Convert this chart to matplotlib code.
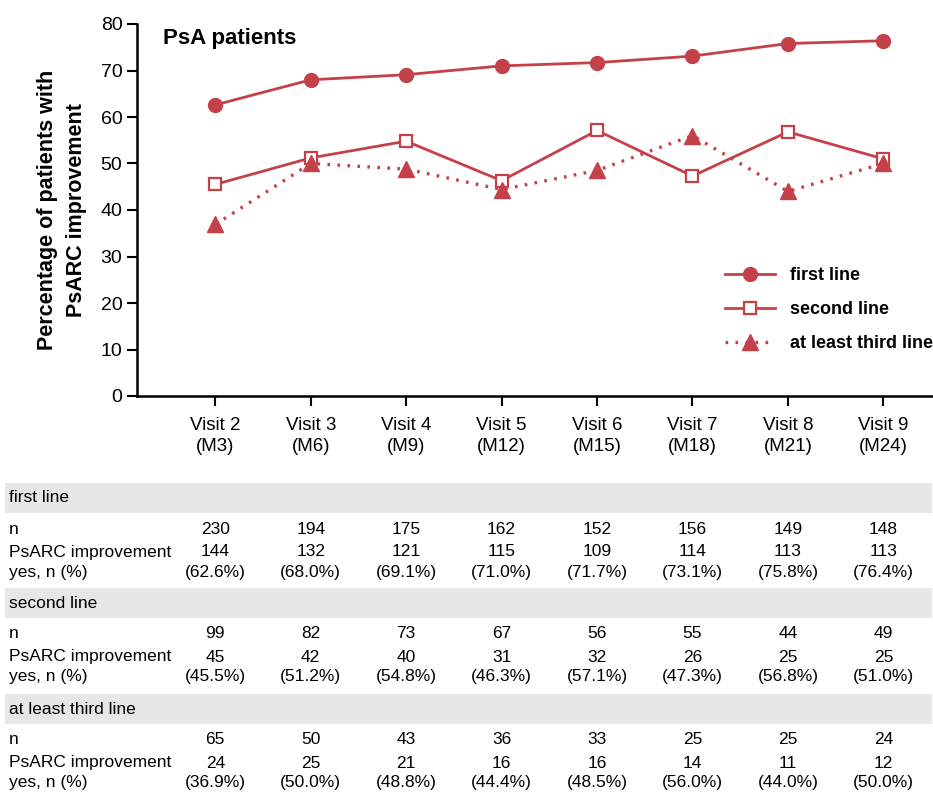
import matplotlib

matplotlib.use("Agg")
import matplotlib.pyplot as plt
import matplotlib.transforms as mtransforms
from matplotlib.patches import Rectangle

plt.rcParams["font.family"] = ["Liberation Sans Narrow", "Liberation Sans", "DejaVu Sans"]

visitas = ["Visit 2\n(M3)", "Visit 3\n(M6)", "Visit 4\n(M9)", "Visit 5\n(M12)",
           "Visit 6\n(M15)", "Visit 7\n(M18)", "Visit 8\n(M21)", "Visit 9\n(M24)"]

n_first = [230, 194, 175, 162, 152, 156, 149, 148]
sim_first = [144, 132, 121, 115, 109, 114, 113, 113]
pct_first = [62.6, 68.0, 69.1, 71.0, 71.7, 73.1, 75.8, 76.4]

n_second = [99, 82, 73, 67, 56, 55, 44, 49]
sim_second = [45, 42, 40, 31, 32, 26, 25, 25]
pct_second = [45.5, 51.2, 54.8, 46.3, 57.1, 47.3, 56.8, 51.0]

n_third = [65, 50, 43, 36, 33, 25, 25, 24]
sim_third = [24, 25, 21, 16, 16, 14, 11, 12]
pct_third = [36.9, 50.0, 48.8, 44.4, 48.5, 56.0, 44.0, 50.0]

COR = "#c4414a"
CINZA = "#e6e7e8"
W, H = 933, 792

fig = plt.figure(figsize=(W / 100, H / 100), dpi=100)
# eixo principal em pixels: x 137..933, y 24..396
ax = fig.add_axes([137 / W, 1 - 396 / H, (933 - 137) / W, (396 - 24) / H])

x = list(range(len(visitas)))
ax.plot(x, pct_first, color=COR, linewidth=2.0, marker="o", markersize=10,
        label="first line", zorder=3)
ax.plot(x, pct_second, color=COR, linewidth=2.0, marker="s", markersize=9,
        markerfacecolor="white", markeredgecolor=COR, markeredgewidth=1.6,
        label="second line", zorder=3)
ax.plot(x, pct_third, color=COR, linewidth=2.4, linestyle=(0, (0.8, 2.2)),
        marker="^", markersize=11, label="at least third line", zorder=3)

ax.set_xlim(-0.82, 7.52)
ax.set_ylim(0, 80)
ax.set_yticks(range(0, 81, 10))
ax.set_xticks(x)
ax.set_xticklabels(visitas, fontsize=13.5, linespacing=1.35)
ax.tick_params(axis="y", labelsize=14, length=7, width=1.5, direction="out")
ax.tick_params(axis="x", length=7, width=1.5, direction="out", pad=8)
for lado in ("top", "right"):
    ax.spines[lado].set_visible(False)
for lado in ("left", "bottom"):
    ax.spines[lado].set_linewidth(1.8)

ax.set_ylabel("Percentage of patients with\nPsARC improvement", fontsize=15.5,
              fontweight="bold", labelpad=10, linespacing=1.45)
ax.text(0.033, 0.99, "PsA patients", transform=ax.transAxes, fontsize=16,
        fontweight="bold", va="top", ha="left")

ax.legend(loc="center right", bbox_to_anchor=(1.02, 0.232), frameon=False,
          handlelength=2.8, handletextpad=0.8,
          prop={"weight": "bold", "size": 13}, labelspacing=0.95)

# Tabela abaixo do gráfico: colunas alinhadas aos dados do eixo x.
trans = mtransforms.blended_transform_factory(ax.transData, fig.transFigure)
grupos = [
    ("first line", n_first, sim_first, pct_first, 483),
    ("second line", n_second, sim_second, pct_second, 588),
    ("at least third line", n_third, sim_third, pct_third, 694),
]
fs = 12.5
for nome, ns, sims, pcts, y0 in grupos:
    fig.patches.append(Rectangle((5 / W, 1 - (y0 + 30) / H), (W - 6) / W, 30 / H,
                                 transform=fig.transFigure, facecolor=CINZA,
                                 edgecolor="none", zorder=0))
    fig.text(9 / W, 1 - (y0 + 15) / H, nome, fontsize=fs, va="center", ha="left")
    y_n = 1 - (y0 + 46) / H
    y_s = 1 - (y0 + 69) / H
    y_p = 1 - (y0 + 89) / H
    fig.text(9 / W, y_n, "n", fontsize=fs, va="center")
    fig.text(9 / W, y_s, "PsARC improvement", fontsize=fs, va="center")
    fig.text(9 / W, y_p, "yes, n (%)", fontsize=fs, va="center")
    for i in x:
        fig.text(i, y_n, str(ns[i]), transform=trans, fontsize=fs, va="center", ha="center")
        fig.text(i, y_s, str(sims[i]), transform=trans, fontsize=fs, va="center", ha="center")
        fig.text(i, y_p, f"({pcts[i]:.1f}%)", transform=trans, fontsize=fs,
                 va="center", ha="center")

fig.savefig("out.png", dpi=100, facecolor="white")
